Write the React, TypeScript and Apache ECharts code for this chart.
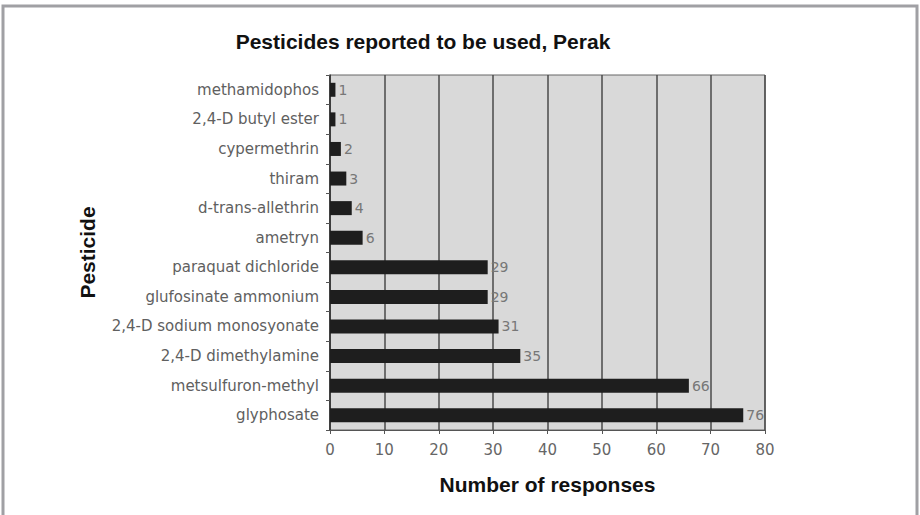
import React, { useEffect, useRef } from "react";
import * as echarts from "echarts";

const categories = [
  "glyphosate",
  "metsulfuron-methyl",
  "2,4-D dimethylamine",
  "2,4-D sodium monosyonate",
  "glufosinate ammonium",
  "paraquat dichloride",
  "ametryn",
  "d-trans-allethrin",
  "thiram",
  "cypermethrin",
  "2,4-D butyl ester",
  "methamidophos",
];
const responses = [76, 66, 35, 31, 29, 29, 6, 4, 3, 2, 1, 1];
const xTicks = [0, 10, 20, 30, 40, 50, 60, 70, 80];

export default function App() {
  const ref = useRef<HTMLDivElement>(null);
  useEffect(() => {
    if (!ref.current) return;
    const chart = echarts.init(ref.current, undefined, { renderer: "svg" });
    const bold = "'Liberation Sans', Arial, sans-serif";
    const wide = "'DejaVu Sans', sans-serif";
    chart.setOption({
      animation: false,
      backgroundColor: "#ffffff",
      textStyle: { fontFamily: wide },
      title: {
        text: "Pesticides reported to be used, Perak",
        left: 418,
        top: 26,
        textAlign: "center",
        textStyle: { fontSize: 21, fontWeight: "bold", color: "#111", fontFamily: bold },
      },
      graphic: [
        {
          type: "polyline",
          shape: { points: [[3, 515], [3, 6], [917, 6], [917, 515]] },
          style: { stroke: "#a0a0a4", lineWidth: 3, fill: "none" },
          silent: true,
        },
      ],
      grid: {
        left: 330,
        right: 155,
        top: 75,
        bottom: 85,
        show: true,
        backgroundColor: "#d9d9d9",
        borderColor: "#666",
        borderWidth: 1,
      },
      xAxis: {
        type: "value",
        min: 0,
        max: 80,
        interval: 10,
        name: "Number of responses",
        nameLocation: "middle",
        nameGap: 44,
        nameTextStyle: { fontSize: 21, fontWeight: "bold", color: "#111", fontFamily: bold },
        axisLine: { show: true, lineStyle: { color: "#555", width: 1 } },
        axisTick: { show: true, length: 4, lineStyle: { color: "#555" } },
        axisLabel: {
          fontSize: 15,
          color: "#666",
          margin: 12,
          fontFamily: wide,
          formatter: (v: number) => (xTicks.includes(v) ? String(v) : ""),
        },
        splitLine: { show: true, lineStyle: { color: "#4a4a4a", width: 1.5 } },
      },
      yAxis: {
        type: "category",
        data: categories,
        name: "Pesticide",
        nameLocation: "middle",
        nameGap: 232,
        nameRotate: 90,
        nameTextStyle: { fontSize: 21, fontWeight: "bold", color: "#111", fontFamily: bold },
        axisLine: { show: true, lineStyle: { color: "#333", width: 1.5 } },
        axisTick: { show: true, length: 4, lineStyle: { color: "#555" } },
        axisLabel: { fontSize: 15, color: "#606060", margin: 11, fontFamily: wide },
      },
      series: [
        {
          type: "bar",
          data: responses,
          barWidth: 14,
          itemStyle: { color: "#1e1e1e" },
          label: {
            show: true,
            position: "right",
            distance: 3,
            fontSize: 14,
            color: "#777",
            fontFamily: wide,
          },
        },
      ],
    });
    return () => chart.dispose();
  }, []);
  return <div ref={ref} style={{ width: 920, height: 515, position: "absolute", left: 0, top: 0 }} />;
}
